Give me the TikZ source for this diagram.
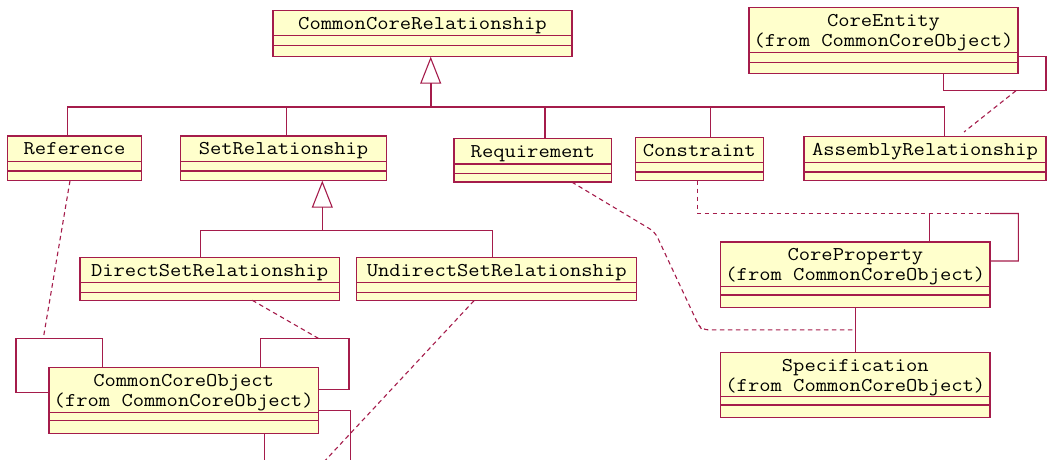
\documentclass[tikz,border=0pt]{standalone}
\usepackage{fontspec}
\usetikzlibrary{arrows.meta,calc}
\definecolor{umlborder}{RGB}{165,28,75}
\definecolor{umlfill}{RGB}{255,255,204}
\tikzset{
  classbox/.style={rectangle, draw=umlborder, fill=umlfill, line width=1.1pt,
    inner sep=0pt, outer sep=0pt, anchor=north west},
  classname/.style={anchor=base, inner sep=0pt,
    font=\ttfamily\fontsize{19.5}{20}\selectfont, text=black},
  umlline/.style={draw=umlborder, line width=1.1pt},
  dependency/.style={umlline, dash pattern=on 4.5pt off 3.5pt},
  generalization/.style={umlline,
    -{Triangle[open, length=27pt, width=21pt, line width=1.1pt]}},
}
% widened typewriter text for class titles
\newcommand\umltitle[1]{\scalebox{1.125}[1]{#1}}
% class box: name, x1, y1, x2, y2, divider 1, divider 2, title line 1, title line 2
\newcommand\umlclass[9]{%
  \pgfmathsetmacro\umlW{#4-#2}%
  \pgfmathsetmacro\umlH{#5-#3}%
  \node[classbox, minimum width=\umlW pt, minimum height=\umlH pt] (#1) at (#2,#3) {};
  \draw[umlline] (#2,#6) -- (#4,#6) (#2,#7) -- (#4,#7);
  \node[classname] at ({(#2+#4)/2},{#3+18.9}) {\umltitle{#8}};
  \node[classname] at ({(#2+#4)/2},{#3+38.9}) {\umltitle{#9}};
}
\begin{document}
\begin{tikzpicture}[x=1pt, y=-1pt]
\path[fill=white, use as bounding box] (0,0) rectangle (1047,459);

% classes
\umlclass{ccr}{273}{10.7}{572}{56.7}{35.7}{45.3}{CommonCoreRelationship}{}
\umlclass{ce}{749}{7.3}{1018}{73.3}{52.7}{62.7}{CoreEntity}{(from CommonCoreObject)}
\umlclass{ref}{7.7}{136}{141.3}{180.7}{161.3}{171}{Reference}{}
\umlclass{setrel}{180.7}{136}{386.3}{180.7}{161.3}{171}{SetRelationship}{}
\umlclass{req}{454}{138.7}{611.7}{182}{164}{173.7}{Requirement}{}
\umlclass{con}{635.3}{137.3}{763.3}{180.7}{162.3}{172}{Constraint}{}
\umlclass{asm}{804}{136.7}{1046}{180.7}{162.7}{172}{AssemblyRelationship}{}
\umlclass{dsr}{80}{257.3}{339.3}{300.3}{282.7}{292.7}{DirectSetRelationship}{}
\umlclass{usr}{356.7}{257.3}{636.7}{300.7}{282.5}{292.3}{UndirectSetRelationship}{}
\umlclass{cp}{720.7}{242}{990}{307.3}{286.7}{295}{CoreProperty}{(from CommonCoreObject)}
\umlclass{spec}{720.7}{352.3}{990}{417.7}{396.7}{405}{Specification}{(from CommonCoreObject)}
\umlclass{cco}{49}{367.3}{318.3}{433.3}{412.7}{420.7}{CommonCoreObject}{(from CommonCoreObject)}

% junction points and loop corners
\coordinate (bus) at (430.7,107);
\coordinate (sbus) at (322.3,230.3);
\coordinate (ceCorner) at (1046,90.7);
\coordinate (ceDash) at (1016,90.7);
\coordinate (ccoLL) at (16,338.3);
\coordinate (ccoRL) at (349,338.3);
\coordinate (refEnd) at (43.3,338.3);
\coordinate (dsrEnd) at (318.3,338.3);
\coordinate (ccoOut) at (350.7,465);
\coordinate (usrEnd) at (321,465);
\coordinate (cpUp) at (929.3,213.5);
\coordinate (cpLoopTop) at (990,213.5);
\coordinate (cpLoopCorner) at (1018.3,261);
\coordinate (cpspec) at ($(cp.south)!0.5!(spec.north)$);

% inheritance from CommonCoreRelationship
\draw[generalization, line width=2pt] (bus) -- ([xshift=157.7pt]ccr.south west);
\draw[umlline] (bus) -| ([xshift=59.6pt]ref.north west);
\draw[umlline] (bus) -| ([xshift=106pt]setrel.north west);
\draw[umlline] (bus) -| ([xshift=91pt]req.north west);
\draw[umlline] (bus) -| ([xshift=75.4pt]con.north west);
\draw[umlline] (bus) -| ([xshift=140.3pt]asm.north west);

% inheritance from SetRelationship
\draw[generalization] (sbus) -- ([xshift=141.6pt]setrel.south west);
\draw[umlline] (sbus) -| ([xshift=120.7pt]dsr.north west);
\draw[umlline] (sbus) -| ([xshift=136pt]usr.north west);

% CoreEntity self association and its class link
\draw[umlline] ([xshift=194.3pt]ce.south west) |- (ceCorner) |- ([yshift=-16.4pt]ce.east);
\draw[dependency] (ceDash) -- ([xshift=160pt,yshift=4.7pt]asm.north west);

% CommonCoreObject associations
\draw[umlline] ([xshift=53.7pt]cco.north west) |- (ccoLL) |- ([yshift=8pt]cco.west);
\draw[umlline] ([xshift=211.3pt]cco.north west) |- (ccoRL) |- ([yshift=11pt]cco.east);
\draw[umlline] ([yshift=-10.4pt]cco.east) -| (ccoOut);
\draw[umlline] ([xshift=215.3pt]cco.south west) -- ++(0,32);
\draw[dependency] ([xshift=62.3pt]ref.south west) -- (refEnd);
\draw[dependency] ([xshift=172.3pt]dsr.south west) -- (dsrEnd);
\draw[dependency] ([xshift=117.3pt]usr.south west) -- (usrEnd);

% CoreProperty associations
\draw[umlline] (cp.south) -- (spec.north);
\draw[umlline] ([xshift=208.6pt]cp.north west) -- (cpUp);
\draw[umlline] (cpLoopTop) -| (cpLoopCorner) -- ([yshift=13.7pt]cp.east);
\draw[dependency] ([xshift=62pt]con.south west) |- (cpLoopTop);
\draw[dependency, rounded corners=6pt] ([xshift=117.7pt]req.south west)
  -- (655,232) -- (698,324) -- (702,329.8) -- (cpspec);
\end{tikzpicture}
\end{document}
